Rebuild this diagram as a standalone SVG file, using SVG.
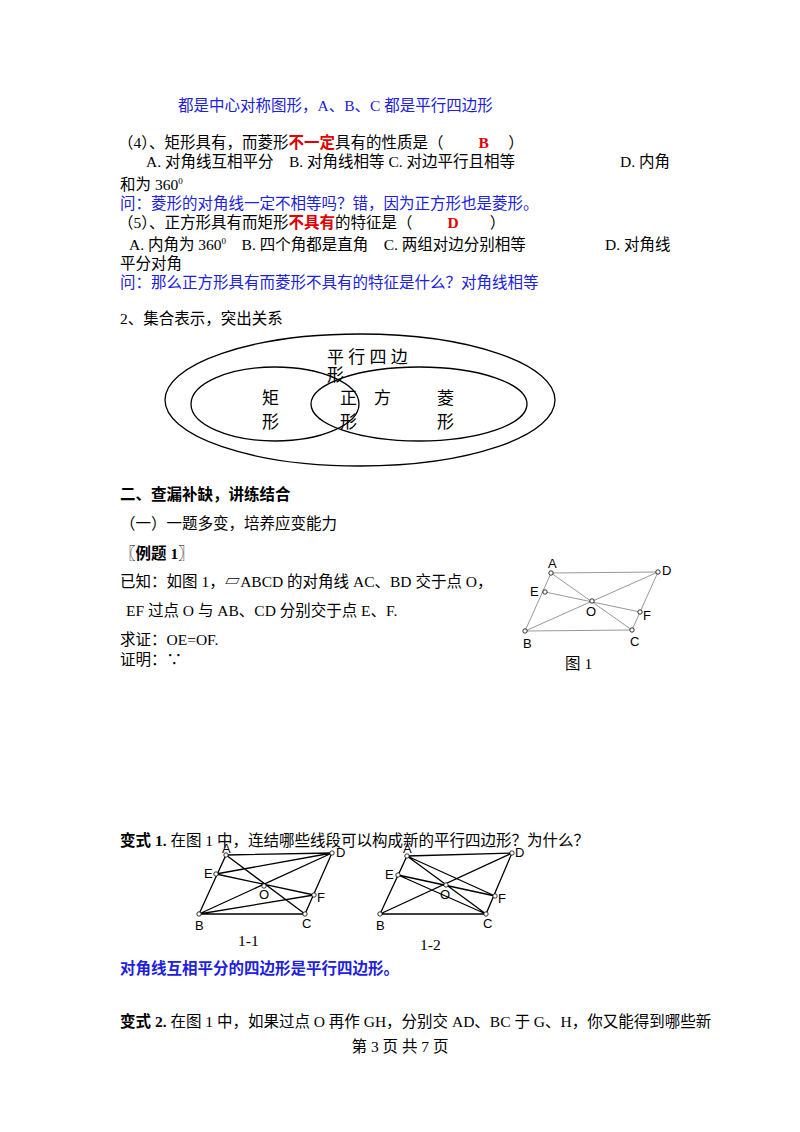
<svg xmlns="http://www.w3.org/2000/svg" width="800" height="1132" viewBox="0 0 800 1132">
<style>
text{font-family:"Liberation Serif","Noto Sans CJK SC",serif;font-size:15.5px;fill:#000}
.b{fill:#2020e0}
.r{fill:#e00000;font-weight:bold}
.h{font-weight:bold}
.lbl{font-family:"Liberation Sans",Arial,sans-serif;font-size:13px}
.g{stroke:#999;stroke-width:1;fill:none}
.k{stroke:#000;stroke-width:1.3;fill:none}
.pt{fill:#fff;stroke:#000;stroke-width:0.8}
.v{font-size:17px}
</style>
<rect width="800" height="1132" fill="#fff"/>
<g id="text">
<text x="178" y="111" class="b">都是中心对称图形，A、B、C 都是平行四边形</text>
<text x="118" y="148">（4）、矩形具有，而菱形<tspan class="r">不一定</tspan>具有的性质是（　　 <tspan class="r">B</tspan>　 ）</text>
<text x="146" y="167">A. 对角线互相平分　B. 对角线相等 C. 对边平行且相等</text>
<text x="620" y="167">D. 内角</text>
<text x="120" y="190">和为 360<tspan font-size="9" dy="-6">0</tspan></text>
<text x="120" y="209" class="b">问：菱形的对角线一定不相等吗？错，因为正方形也是菱形。</text>
<text x="118" y="228">（5）、正方形具有而矩形<tspan class="r">不具有</tspan>的特征是（　　 <tspan class="r">D</tspan>　　）</text>
<text x="129" y="250">A. 内角为 360<tspan font-size="9" dy="-6">0</tspan><tspan dy="6">　B. 四个角都是直角　C. 两组对边分别相等</tspan></text>
<text x="605" y="250">D. 对角线</text>
<text x="120" y="269">平分对角</text>
<text x="120" y="288" class="b">问：那么正方形具有而菱形不具有的特征是什么？对角线相等</text>
<text x="120" y="324">2、集合表示，突出关系</text>
<text x="120" y="500" class="h">二、查漏补缺，讲练结合</text>
<text x="120" y="529">（一）一题多变，培养应变能力</text>
<text x="120" y="559" class="h">〖例题 1〗</text>
<text x="120" y="587">已知：如图 1，▱ABCD 的对角线 AC、BD 交于点 O，</text>
<text x="126" y="616">EF 过点 O 与 AB、CD 分别交于点 E、F.</text>
<text x="120" y="645">求证：OE=OF.</text>
<text x="120" y="665">证明：∵</text>
<text x="120" y="846"><tspan class="h">变式 1.</tspan> 在图 1 中，连结哪些线段可以构成新的平行四边形？为什么？</text>
<text x="120" y="974" class="b h">对角线互相平分的四边形是平行四边形。</text>
<text x="120" y="1027"><tspan class="h">变式 2.</tspan> 在图 1 中，如果过点 O 再作 GH，分别交 AD、BC 于 G、H，你又能得到哪些新</text>
<text x="400" y="1052" font-size="11" text-anchor="middle">第 3 页 共 7 页</text>
</g>
<g id="venn">
<ellipse cx="360" cy="400" rx="195" ry="66" class="k"/>
<ellipse cx="275" cy="404" rx="84" ry="37" class="k"/>
<ellipse cx="419" cy="404" rx="108" ry="37" class="k"/>
<text x="327" y="363" class="v">平 行 四 边</text>
<text x="327" y="381" class="v">形</text>
<text x="262" y="404" class="v">矩</text>
<text x="262" y="428" class="v">形</text>
<text x="340" y="404" class="v">正　方</text>
<text x="340" y="428" class="v">形</text>
<text x="437" y="404" class="v">菱</text>
<text x="437" y="428" class="v">形</text>
</g>
<g id="fig1">
<path class="g" d="M551,573 L658,572 L632,630 L525,631 Z M551,573 L632,630 M525,631 L658,572 M545,592 L640,612"/>
<g class="pt"><circle cx="551" cy="573" r="2.2"/><circle cx="658" cy="572" r="2.2"/><circle cx="632" cy="630" r="2.2"/><circle cx="525" cy="631" r="2.2"/><circle cx="592" cy="601" r="2.2"/><circle cx="545" cy="592" r="2.2"/><circle cx="640" cy="612" r="2.2"/></g>
<text class="lbl" x="548" y="568">A</text><text class="lbl" x="662" y="575">D</text><text class="lbl" x="530" y="596">E</text><text class="lbl" x="586" y="616">O</text><text class="lbl" x="643" y="620">F</text><text class="lbl" x="523" y="648">B</text><text class="lbl" x="630" y="646">C</text>
<text x="565" y="669">图 1</text>
</g>
<g id="fig1-1">
<path class="k" d="M226,855 L332,853 L305,914 L199,914 Z M226,855 L305,914 M199,914 L332,853 M216,874 L314,895 M216,874 L332,853 M199,914 L314,895"/>
<g class="pt"><circle cx="226" cy="855" r="2.2"/><circle cx="332" cy="853" r="2.2"/><circle cx="305" cy="914" r="2.2"/><circle cx="199" cy="914" r="2.2"/><circle cx="264" cy="886" r="2.2"/><circle cx="216" cy="874" r="2.2"/><circle cx="314" cy="895" r="2.2"/></g>
<text class="lbl" x="222" y="853">A</text><text class="lbl" x="336" y="857">D</text><text class="lbl" x="204" y="878">E</text><text class="lbl" x="259" y="899">O</text><text class="lbl" x="317" y="902">F</text><text class="lbl" x="195" y="930">B</text><text class="lbl" x="302" y="928">C</text>
<text x="238" y="946">1-1</text>
</g>
<g id="fig1-2">
<path class="k" d="M407,856 L512,853 L486,914 L380,914 Z M407,856 L486,914 M380,914 L512,853 M398,875 L495,896 M407,856 L495,896 M398,875 L486,914"/>
<g class="pt"><circle cx="407" cy="856" r="2.2"/><circle cx="512" cy="853" r="2.2"/><circle cx="486" cy="914" r="2.2"/><circle cx="380" cy="914" r="2.2"/><circle cx="446" cy="885" r="2.2"/><circle cx="398" cy="875" r="2.2"/><circle cx="495" cy="896" r="2.2"/></g>
<text class="lbl" x="403" y="853">A</text><text class="lbl" x="515" y="857">D</text><text class="lbl" x="385" y="879">E</text><text class="lbl" x="440" y="899">O</text><text class="lbl" x="498" y="903">F</text><text class="lbl" x="376" y="930">B</text><text class="lbl" x="483" y="928">C</text>
<text x="420" y="950">1-2</text>
</g>
</svg>
